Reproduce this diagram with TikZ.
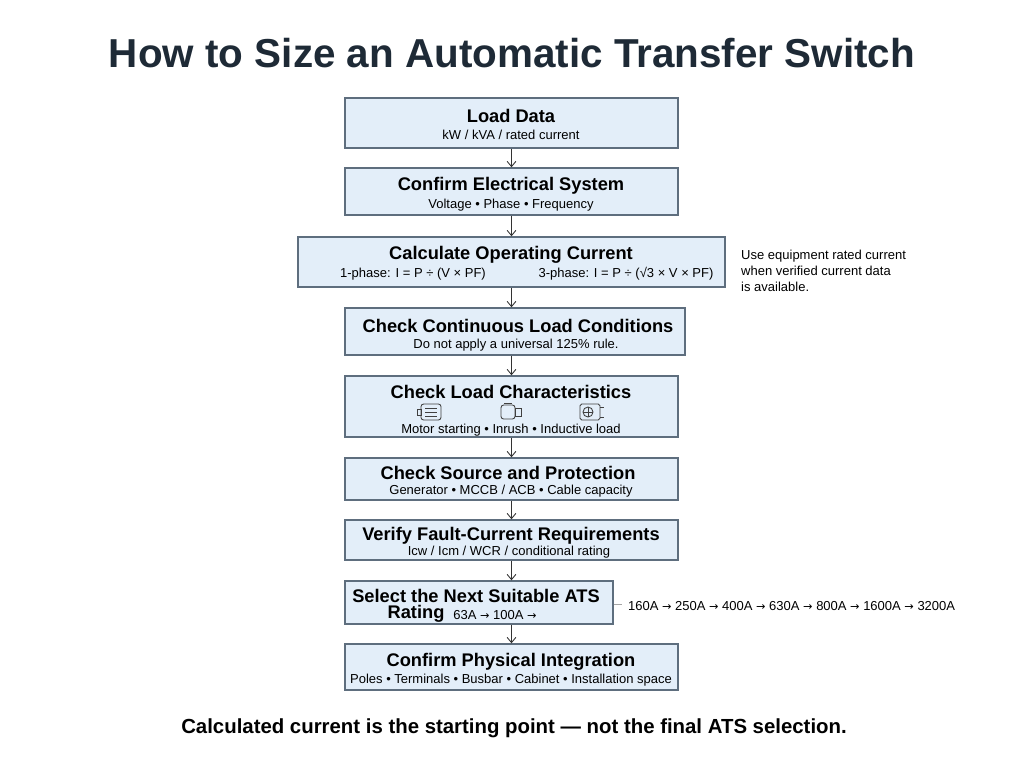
\documentclass[tikz,border=0pt]{standalone}
\usepackage{fontspec}
\setmainfont{Liberation Sans}
\newfontfamily\symfont{DejaVu Sans}
\usepackage{tikz}
\usetikzlibrary{arrows.meta, calc, positioning}
\definecolor{boxfill}{HTML}{E3EEF9}
\definecolor{boxline}{HTML}{5E6E7E}
\definecolor{ink}{HTML}{1E2A36}
\newcommand{\ra}{{\symfont\fontsize{6.4}{9}\selectfont→}}
\begin{document}
\begin{tikzpicture}[x=0.02cm, y=-0.02cm,
  stepbox/.style={draw=boxline, fill=boxfill, line width=0.8pt, inner sep=0pt},
  head/.style={font=\fontsize{10.4}{12}\selectfont\bfseries, text=black, yshift=-0.04cm},
  sub/.style={font=\fontsize{7.4}{9}\selectfont, text=black, yshift=-0.04cm},
  flow/.style={-{Straight Barb[length=3pt, width=5pt]}, line width=0.5pt, draw=black!80},
  icon/.style={draw=black!75, line width=0.5pt}]
\useasboundingbox (0,0) rectangle (1024,765);

\node[font=\fontsize{23}{26}\selectfont\bfseries, text=ink] (title) at (512,53) {How to Size an Automatic Transfer Switch};

% steps
\node[stepbox, minimum width=333*0.02cm, minimum height=50*0.02cm] (s1) at (511.5,123) {};
\node[stepbox, minimum width=333*0.02cm, minimum height=47*0.02cm] (s2) at (511.5,191.5) {};
\node[stepbox, minimum width=427*0.02cm, minimum height=50*0.02cm] (s3) at (511.5,262) {};
\node[stepbox, minimum width=340*0.02cm, minimum height=47*0.02cm] (s4) at (515,331.5) {};
\node[stepbox, minimum width=333*0.02cm, minimum height=61*0.02cm] (s5) at (511.5,406.5) {};
\node[stepbox, minimum width=333*0.02cm, minimum height=42*0.02cm] (s6) at (511.5,479) {};
\node[stepbox, minimum width=333*0.02cm, minimum height=40*0.02cm] (s7) at (511.5,540) {};
\node[stepbox, minimum width=268*0.02cm, minimum height=43*0.02cm] (s8) at (479,602.5) {};
\node[stepbox, minimum width=333*0.02cm, minimum height=46*0.02cm] (s9) at (511.5,667) {};

% texts
\node[head] at (511,114) {Load Data};
\node[sub] at (511,133) {kW / kVA / rated current};
\node[head] at (511,184) {Confirm Electrical System};
\node[sub] at (511,203) {Voltage • Phase • Frequency};
\node[head] at (511,253) {Calculate Operating Current};
\node[sub] at (413,272) {1-phase: I = P ÷ (V × PF)};
\node[sub] at (626,272) {3-phase: I = P ÷ (√3 × V × PF)};
\node[head] at (518,324) {Check Continuous Load Conditions};
\node[sub] at (516,343) {Do not apply a universal 125\% rule.};
\node[head] at (511,390) {Check Load Characteristics};
\node[sub] at (511,428) {Motor starting • Inrush • Inductive load};
\node[head] at (508,471) {Check Source and Protection};
\node[sub] at (511,489) {Generator • MCCB / ACB • Cable capacity};
\node[head] at (511,534) {Verify Fault-Current Requirements};
\node[sub] at (509,550) {Icw / Icm / WCR / conditional rating};
\node[head] at (476,594) {Select the Next Suitable ATS};
\node[head] at (416,612) {Rating};
\node[sub] at (495,613) {63A \ra{} 100A \ra};
\node[head] at (511,660) {Confirm Physical Integration};
\node[sub] at (511,678) {Poles • Terminals • Busbar • Cabinet • Installation space};

% side notes
\node[sub, align=left, anchor=north west] (note) at (735,242) {Use equipment rated current\\when verified current data\\is available.};
\coordinate (dash) at (622,604);
\draw[black!35, line width=0.5pt] (s8.east |- dash) -- (dash);
\node[sub, anchor=west] (ratings) at (dash) {160A \ra{} 250A \ra{} 400A \ra{} 630A \ra{} 800A \ra{} 1600A \ra{} 3200A};

% icons
\begin{scope}[icon]
  \draw[rounded corners=1.5pt] (421,404) rectangle (441,420);
  \draw (417,409) rectangle (421,415);
  \foreach \yy in {408,412,416} \draw (425,\yy) -- (437,\yy);
  \draw[rounded corners=1.5pt] (501,405) rectangle (515,419);
  \draw (515,408) rectangle (521,416);
  \draw (504,403) -- (512,403);
  \draw[rounded corners=1pt] (580,404) rectangle (600,420);
  \draw (588,412) circle (5);
  \draw (583,412) -- (593,412) (588,407) -- (588,417);
  \draw (600,407) -- (604,407) (600,417) -- (604,417);
\end{scope}

% connectors
\foreach \a/\b in {s1/s2, s2/s3, s3/s4, s4/s5, s5/s6, s6/s7, s7/s8, s8/s9}
  \draw[flow] (\a.south -| s1.south) -- (\b.north -| s1.north);

\node[font=\fontsize{11.6}{14}\selectfont\bfseries, text=black] (footer) at (514,728) {Calculated current is the starting point — not the final ATS selection.};
\end{tikzpicture}
\end{document}
